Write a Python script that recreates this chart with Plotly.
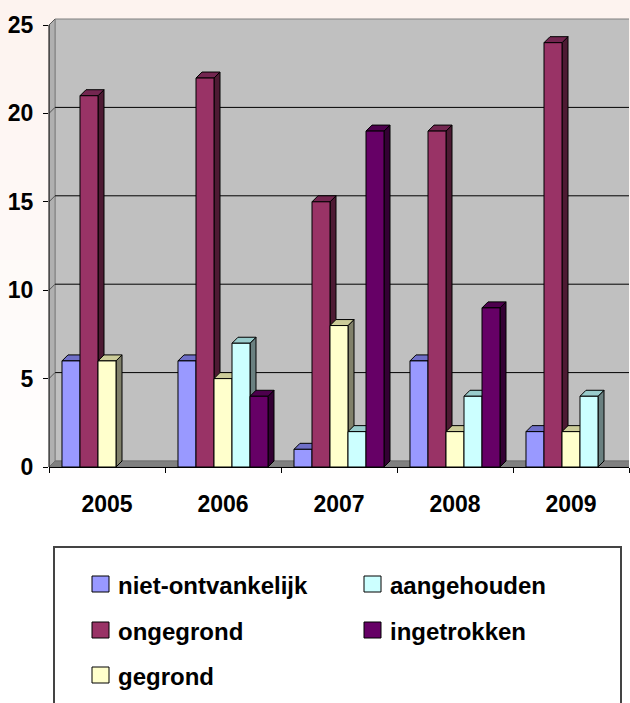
import plotly.graph_objects as go

# ---------------- data ----------------
years = ["2005", "2006", "2007", "2008", "2009"]
series_names = ["niet-ontvankelijk", "ongegrond", "gegrond", "aangehouden", "ingetrokken"]
niet_ontvankelijk = [6, 6, 1, 6, 2]
ongegrond = [21, 22, 15, 19, 24]
gegrond = [6, 5, 8, 2, 2]
aangehouden = [0, 7, 2, 4, 4]
ingetrokken = [0, 4, 19, 9, 0]
y_tick_values = [0, 5, 10, 15, 20, 25]
series_values = [niet_ontvankelijk, ongegrond, gegrond, aangehouden, ingetrokken]

# ---------------- style ----------------
front_colors = ["#9999FF", "#993366", "#FFFFCC", "#CCFFFF", "#660066"]
side_colors = ["#4D4D80", "#4D1A33", "#80806A", "#6A8080", "#330033"]
top_colors = ["#6F6FC8", "#732650", "#CCCC99", "#99CCCC", "#4D004D"]
FONT = "Liberation Sans, Arial, sans-serif"

# body margin is removed by the post script, so screen px == figure px
BODY = 0
SCREEN_W, SCREEN_H = 630, 703
W, H = SCREEN_W - BODY, SCREEN_H - BODY
PL, PR, PT, PB = 49, 629, 18, 467          # plot area in screen px
ML = PL - BODY
MT = PT - BODY
MB = H - (PB - BODY)
MR = W - (PR - BODY)
plot_w = PR - PL
plot_h = PB - PT
y_px_per_unit = 442 / 25.0
y_max = plot_h / y_px_per_unit
cat_px = plot_w / len(years)
DX = 6 / cat_px            # depth offset in category units
DY = 6 / y_px_per_unit     # depth offset in value units
BARGAP = 0.224
n_series = len(series_names)
bar_w = (1 - BARGAP) / n_series


def px_to_paper_x(sx):
    return (sx - PL) / plot_w


def px_to_paper_y(sy):
    return (PB - sy) / plot_h


fig = go.Figure()

# bars (front faces)
for i, name in enumerate(series_names):
    vals = [v if v > 0 else None for v in series_values[i]]
    fig.add_trace(go.Bar(
        name=name, x=years, y=vals,
        marker=dict(color=front_colors[i], line=dict(color="black", width=1)),
        showlegend=False, hoverinfo="x+y+name",
    ))

shapes = []

# background gradient (paper)
N = 25
c0, c1 = (253, 243, 239), (255, 255, 255)
for k in range(N):
    t = k / (N - 1)
    col = "rgb(%d,%d,%d)" % tuple(round(a + (b - a) * t) for a, b in zip(c0, c1))
    shapes.append(dict(type="rect", xref="paper", yref="paper", layer="below",
                       x0=px_to_paper_x(-2), x1=px_to_paper_x(SCREEN_W + 5),
                       y0=px_to_paper_y(k * 20 - (2 if k == 0 else 0)), y1=px_to_paper_y((k + 1) * 20 + 1),
                       fillcolor=col, line=dict(width=0)))

x_left = -0.5
x_right = len(years) - 0.5
top_val = y_tick_values[-1]

# back wall
shapes.append(dict(type="rect", xref="x", yref="y", layer="below",
                   x0=x_left + DX, x1=x_right + DX, y0=DY, y1=top_val + DY,
                   fillcolor="#C0C0C0", line=dict(color="#808080", width=1)))
# left wall
shapes.append(dict(type="path", xref="x", yref="y", layer="below",
                   path=f"M {x_left},0 L {x_left+DX},{DY} L {x_left+DX},{top_val+DY} L {x_left},{top_val} Z",
                   fillcolor="#B0B0B0", line=dict(color="#808080", width=1)))
# floor
shapes.append(dict(type="path", xref="x", yref="y", layer="below",
                   path=f"M {x_left},0 L {x_left+DX},{DY} L {x_right+DX},{DY} L {x_right},0 Z",
                   fillcolor="#808080", line=dict(color="#707070", width=1)))
# gridlines on back wall and left wall
for v in y_tick_values[1:-1]:
    shapes.append(dict(type="line", xref="x", yref="y", layer="below",
                       x0=x_left + DX, x1=x_right + DX, y0=v + DY, y1=v + DY,
                       line=dict(color="black", width=1)))
for v in y_tick_values[1:]:
    shapes.append(dict(type="line", xref="x", yref="y", layer="below",
                       x0=x_left, x1=x_left + DX, y0=v, y1=v + DY,
                       line=dict(color="#555555", width=1)))

# depth faces of the bars
for j in range(len(years)):
    for i in range(n_series):
        v = series_values[i][j]
        if v <= 0:
            continue
        x0 = j - (1 - BARGAP) / 2 + i * bar_w
        x1 = x0 + bar_w
        shapes.append(dict(type="path", xref="x", yref="y", layer="below",
                           path=f"M {x1},0 L {x1+DX},{DY} L {x1+DX},{v+DY} L {x1},{v} Z",
                           fillcolor=side_colors[i], line=dict(color="black", width=1)))
        shapes.append(dict(type="path", xref="x", yref="y", layer="below",
                           path=f"M {x0},{v} L {x0+DX},{v+DY} L {x1+DX},{v+DY} L {x1},{v} Z",
                           fillcolor=top_colors[i], line=dict(color="black", width=1)))

# front value axis line
shapes.append(dict(type="line", xref="paper", yref="y", layer="above",
                   x0=0, x1=0, y0=0, y1=top_val, line=dict(color="black", width=1)))

# legend box
shapes.append(dict(type="rect", xref="paper", yref="paper", layer="above",
                   x0=px_to_paper_x(54), x1=px_to_paper_x(621),
                   y0=px_to_paper_y(715), y1=px_to_paper_y(547),
                   fillcolor="rgba(0,0,0,0)", line=dict(color="#444444", width=2)))

# legend entries (column-wise like the original)
legend_cols_px = [92, 364]
legend_rows_px = [584, 630, 675]
annotations = []
for i, name in enumerate(series_names):
    col, row = divmod(i, 3)
    sx = legend_cols_px[col]
    sy = legend_rows_px[row]
    shapes.append(dict(type="rect", xref="paper", yref="paper", layer="above",
                       x0=px_to_paper_x(sx), x1=px_to_paper_x(sx + 17),
                       y0=px_to_paper_y(sy + 8), y1=px_to_paper_y(sy - 8),
                       fillcolor=front_colors[i], line=dict(color="black", width=1)))
    annotations.append(dict(xref="paper", yref="paper", x=px_to_paper_x(sx + 24),
                            y=px_to_paper_y(sy + 1), xanchor="left", yanchor="middle",
                            text=name, showarrow=False,
                            font=dict(family=FONT, size=24, color="black", weight=700)))

fig.update_layout(
    width=W, height=H,
    margin=dict(l=ML, r=MR, t=MT, b=MB, pad=0, autoexpand=False),
    paper_bgcolor="white",
    plot_bgcolor="rgba(0,0,0,0)",
    barmode="group", bargap=BARGAP, bargroupgap=0,
    shapes=shapes, annotations=annotations,
    showlegend=False,
    font=dict(family=FONT, size=23, color="black", weight=700),
)
fig.update_xaxes(type="category", range=[x_left, x_right], showgrid=False, zeroline=False,
                 showline=True, linecolor="black", linewidth=1, automargin=False,
                 ticks="outside", tickson="boundaries", ticklen=5, tickcolor="black",
                 ticklabelstandoff=16,
                 tickfont=dict(family=FONT, size=23, color="black", weight=700))
fig.update_yaxes(range=[0, y_max], tickmode="array", tickvals=y_tick_values,
                 showgrid=False, zeroline=False, showline=False, automargin=False,
                 ticks="outside", ticklen=5, tickcolor="black", ticklabelstandoff=5,
                 tickfont=dict(family=FONT, size=23, color="black", weight=700))

fig.write_html("out.html", config={"displayModeBar": False},
               post_script="document.body.style.margin='0px';")
